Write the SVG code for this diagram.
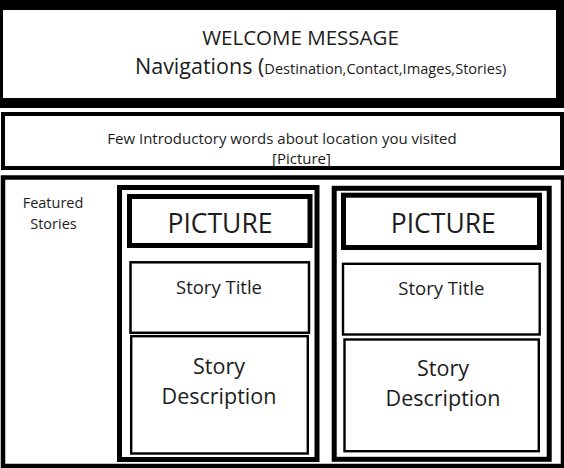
<svg xmlns="http://www.w3.org/2000/svg" width="564" height="468" viewBox="0 0 564 468">
<style>
text{font-family:"Open Sans","Noto Sans","Liberation Sans",sans-serif;fill:#1c1c1c;}
.c{text-anchor:middle;}
.b{fill:#fff;stroke:#000;}
</style>
<rect x="0" y="0" width="564" height="468" fill="#fff"/>
<g id="header">
<rect x="0" y="0" width="564" height="108" fill="#000"/>
<rect x="3" y="10" width="553" height="88" fill="#fff"/>
<text class="c" x="300.5" y="45" font-size="20.5">WELCOME MESSAGE</text>
<text x="135" y="73.5" font-size="21.5">Navigations (<tspan font-size="14.6">Destination,Contact,Images,Stories)</tspan></text>
</g>
<g id="intro">
<rect class="b" x="3" y="114" width="559" height="54" stroke-width="4"/>
<text class="c" x="282" y="144" font-size="15">Few Introductory words about location you visited</text>
<text class="c" x="301.5" y="164" font-size="15">[Picture]</text>
</g>
<g id="featured">
<rect class="b" x="3" y="177.5" width="560" height="288.5" stroke-width="4.5"/>
<text class="c" x="53" y="208" font-size="14.5">Featured</text>
<text class="c" x="53.5" y="229" font-size="14.5">Stories</text>
</g>
<g id="card1">
<rect class="b" x="119.5" y="187.5" width="197.5" height="272" stroke-width="5"/>
<rect class="b" x="129.5" y="196.5" width="180.5" height="49" stroke-width="5"/>
<text class="c" x="220" y="232.5" font-size="26.5">PICTURE</text>
<rect class="b" x="130.5" y="262.3" width="178.5" height="70.5" stroke-width="2.5"/>
<text class="c" x="219" y="293.5" font-size="18.5">Story Title</text>
<rect class="b" x="131.2" y="336.2" width="176.6" height="117.3" stroke-width="2.4"/>
<text class="c" x="219" y="374" font-size="21.5">Story</text>
<text class="c" x="219" y="403.5" font-size="21.5">Description</text>
</g>
<g id="card2">
<rect class="b" x="334.2" y="188.3" width="215" height="271" stroke-width="5"/>
<rect class="b" x="343.5" y="195.2" width="196" height="52.3" stroke-width="5"/>
<text class="c" x="443.3" y="233.3" font-size="26.5">PICTURE</text>
<rect class="b" x="343" y="263.8" width="196.7" height="70.7" stroke-width="2.4"/>
<text class="c" x="441.3" y="295" font-size="18.5">Story Title</text>
<rect class="b" x="344.5" y="339.5" width="194.3" height="111.7" stroke-width="2.4"/>
<text class="c" x="443" y="375.7" font-size="21.5">Story</text>
<text class="c" x="443" y="405.5" font-size="21.5">Description</text>
</g>
<g id="connectors"></g>
</svg>
